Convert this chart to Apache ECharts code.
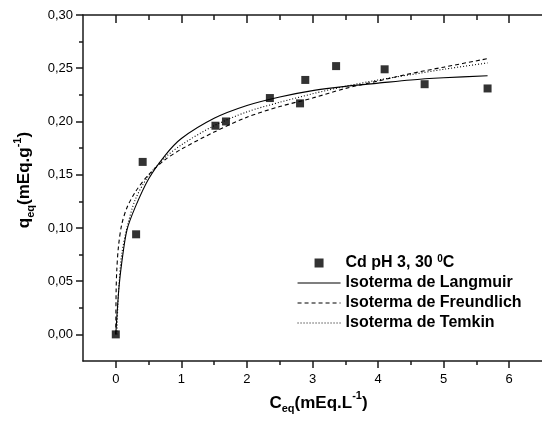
<!DOCTYPE html>
<html>
<head>
<meta charset="utf-8">
<script src="https://cdn.jsdelivr.net/npm/echarts@6/dist/echarts.min.js"></script>
<style>
  html, body { margin: 0; padding: 0; background: #fff; }
  #chart { width: 542px; height: 421px; }
</style>
</head>
<body>
<div id="chart"></div>
<script>
// measured points, Cd pH 3, 30 C
var ceqData = [0, 0.31, 0.41, 1.52, 1.68, 2.35, 2.81, 2.89, 3.36, 4.10, 4.71, 5.67];
var qeqData = [0, 0.094, 0.162, 0.196, 0.200, 0.222, 0.217, 0.239, 0.252, 0.249, 0.235, 0.231];

// fitted isotherms
var langC = [0, 0.02, 0.05, 0.09, 0.17, 0.3, 0.5, 0.75, 1.0, 1.5, 2.0, 2.5, 3.0, 3.5, 4.0, 4.5, 5.0, 5.67];
var langQ = [0, 0.020, 0.045, 0.067, 0.098, 0.120, 0.146, 0.168, 0.184, 0.203, 0.215, 0.223, 0.229, 0.233, 0.236, 0.239, 0.241, 0.243];
var freuC = [0, 0.005, 0.015, 0.04, 0.09, 0.17, 0.3, 0.5, 0.75, 1.0, 1.5, 2.0, 2.5, 3.0, 3.5, 4.0, 4.5, 5.0, 5.67];
var freuQ = [0, 0.040, 0.060, 0.082, 0.103, 0.119, 0.134, 0.150, 0.164, 0.174, 0.190, 0.204, 0.214, 0.222, 0.231, 0.238, 0.245, 0.251, 0.259];
var temkC = [0.017, 0.03, 0.05, 0.09, 0.17, 0.3, 0.5, 0.75, 1.0, 1.5, 2.0, 2.5, 3.0, 3.5, 4.0, 4.5, 5.0, 5.67];
var temkQ = [0, 0.025, 0.048, 0.075, 0.100, 0.127, 0.149, 0.166, 0.178, 0.196, 0.209, 0.218, 0.226, 0.233, 0.239, 0.244, 0.249, 0.255];

var xMajor = [0, 1, 2, 3, 4, 5, 6];
var xMinor = [0.5, 1.5, 2.5, 3.5, 4.5, 5.5];
var yMajor = [0, 0.05, 0.10, 0.15, 0.20, 0.25, 0.30];
var yMinor = [0.025, 0.075, 0.125, 0.175, 0.225, 0.275];

function pairs(xs, ys) {
  var out = [];
  for (var i = 0; i < xs.length; i++) out.push([xs[i], ys[i]]);
  return out;
}

var font = 'Liberation Sans, Arial, sans-serif';
var axisCol = '#1a1a1a';
var nameRich = {
  b: { fontSize: 17, fontWeight: 'bold', fontFamily: font, color: '#000', lineHeight: 24 },
  sub: { fontSize: 11, fontWeight: 'bold', fontFamily: font, color: '#000', verticalAlign: 'bottom' },
  sup: { fontSize: 11, fontWeight: 'bold', fontFamily: font, color: '#000', verticalAlign: 'top' }
};

function xAx(pos, ticks, len, inside, showLine, labels) {
  return {
    type: 'value', position: pos, min: -0.5, max: 6.5,
    splitLine: { show: false },
    axisLine: { show: showLine, onZero: false, lineStyle: { color: axisCol, width: 1.5 } },
    axisTick: { show: true, inside: inside, length: len, customValues: ticks, lineStyle: { color: axisCol, width: 1.5 } },
    axisLabel: labels ? { show: true, customValues: xMajor, margin: 12, fontSize: 13, fontFamily: font, color: '#000' } : { show: false }
  };
}
function yAx(ticks, len, showLine, labels) {
  return {
    type: 'value', position: 'left', min: -0.025, max: 0.30,
    splitLine: { show: false },
    axisLine: { show: showLine, onZero: false, lineStyle: { color: axisCol, width: 1.5 } },
    axisTick: { show: true, length: len, customValues: ticks, lineStyle: { color: axisCol, width: 1.5 } },
    axisLabel: labels ? {
      show: true, customValues: yMajor, margin: 10, fontSize: 13, fontFamily: font, color: '#000',
      formatter: function (v) { return v.toFixed(2).replace('.', ','); }
    } : { show: false }
  };
}

var xMain = xAx('bottom', xMajor, 7, false, true, true);
xMain.name = '{b|C}{sub|eq}{b|(mEq.L}{sup|-1}{b|)}';
xMain.nameLocation = 'middle';
xMain.nameGap = 27;
xMain.nameTextStyle = { rich: nameRich, padding: [0, 0, 0, 12] };

var yMain = yAx(yMajor, 7, true, true);
yMain.name = '{b|q}{sub|eq}{b|(mEq.g}{sup|-1}{b|)}';
yMain.nameLocation = 'middle';
yMain.nameRotate = 90;
yMain.nameGap = 44;
yMain.nameTextStyle = { rich: nameRich, padding: [0, 0, 0, 16] };

var hideSym = { opacity: 0 };

var chart = echarts.init(document.getElementById('chart'));
chart.setOption({
  animation: false,
  backgroundColor: '#fff',
  grid: { left: 83, right: -9, top: 15, bottom: 60 },
  xAxis: [
    xMain,
    xAx('bottom', xMinor, 4, false, false, false),
    xAx('top', xMajor, 8, true, true, false),
    xAx('top', xMinor, 5, true, false, false)
  ],
  yAxis: [
    yMain,
    yAx(yMinor, 4, false, false)
  ],
  legend: {
    orient: 'vertical',
    left: 297, top: 254,
    padding: 0,
    itemWidth: 43, itemHeight: 9, itemGap: 2,
    selectedMode: false,
    lineStyle: { width: 1.1 },
    textStyle: {
      fontSize: 16, fontWeight: 'bold', fontFamily: font, color: '#000', lineHeight: 18,
      rich: {
        a: { fontSize: 16, fontWeight: 'bold', fontFamily: font, color: '#000', lineHeight: 18 },
        s: { fontSize: 10, fontWeight: 'bold', fontFamily: font, color: '#000', verticalAlign: 'top' }
      }
    },
    formatter: function (name) {
      if (name.indexOf('Cd') === 0) return '{a|Cd pH 3, 30 }{s|0}{a|C}';
      return name;
    },
    data: [
      { name: 'Cd pH 3, 30 0C', icon: 'path://M0,0h10v10h-10z' },
      { name: 'Isoterma de Langmuir', itemStyle: hideSym, lineStyle: { width: 1.1 } },
      { name: 'Isoterma de Freundlich', itemStyle: hideSym, lineStyle: { width: 1.1 } },
      { name: 'Isoterma de Temkin', itemStyle: hideSym, lineStyle: { width: 1.1 } }
    ]
  },
  series: [
    {
      name: 'Cd pH 3, 30 0C', type: 'scatter', symbol: 'rect', symbolSize: 8,
      itemStyle: { color: '#000' }, z: 5,
      data: pairs(ceqData, qeqData)
    },
    {
      name: 'Isoterma de Langmuir', type: 'line', smooth: 0.3, symbol: 'none',
      lineStyle: { color: '#000', width: 1.1, type: 'solid' }, itemStyle: { color: '#000' },
      data: pairs(langC, langQ)
    },
    {
      name: 'Isoterma de Freundlich', type: 'line', smooth: 0.3, symbol: 'none',
      lineStyle: { color: '#000', width: 1.1, type: [4, 3] }, itemStyle: { color: '#000' },
      data: pairs(freuC, freuQ)
    },
    {
      name: 'Isoterma de Temkin', type: 'line', smooth: 0.3, symbol: 'none',
      lineStyle: { color: '#000', width: 1.1, type: [1, 2] }, itemStyle: { color: '#000' },
      data: pairs(temkC, temkQ)
    }
  ]
});
</script>
</body>
</html>
